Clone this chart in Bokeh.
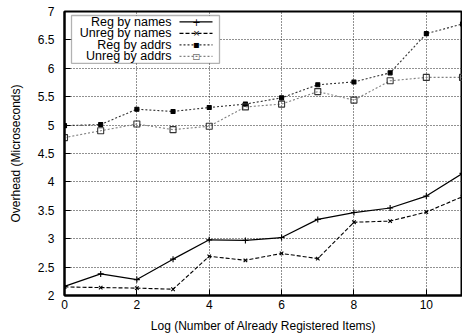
from bokeh.plotting import figure
from bokeh.models import BoxAnnotation, Label, Arrow, FixedTicker, Range1d
from bokeh.embed import file_html
from bokeh.resources import INLINE

# ---- data ----
x_vals = [0, 1, 2, 3, 4, 5, 6, 7, 8, 9, 10, 11]
reg_names = [2.16, 2.38, 2.28, 2.64, 2.98, 2.97, 3.02, 3.34, 3.46, 3.54, 3.75, 4.15]
unreg_names = [2.15, 2.14, 2.13, 2.11, 2.69, 2.62, 2.74, 2.65, 3.29, 3.31, 3.47, 3.74]
reg_addrs = [4.99, 5.01, 5.28, 5.24, 5.31, 5.37, 5.48, 5.71, 5.76, 5.92, 6.61, 6.78]
unreg_addrs = [4.78, 4.90, 5.02, 4.92, 4.98, 5.32, 5.37, 5.59, 5.44, 5.78, 5.84, 5.84]
series_names = ["Reg by names", "Unreg by names", "Reg by addrs", "Unreg by addrs"]
x_ticks = [0, 2, 4, 6, 8, 10]
y_ticks = [2, 2.5, 3, 3.5, 4, 4.5, 5, 5.5, 6, 6.5, 7]
y_tick_labels = ["2", "2.5", "3", "3.5", "4", "4.5", "5", "5.5", "6", "6.5", "7"]
x_title = "Log (Number of Already Registered Items)"
y_title = "Overhead (Microseconds)"

FONT = "Liberation Sans"
X0, X1, Y0, Y1 = 0, 11, 2, 7
W, H = 462, 335
FL, FR, FT, FB = 64, 462, 11, 296  # frame in canvas px

p = figure(width=W, height=H, output_backend="svg", toolbar_location=None,
           x_range=Range1d(X0, X1), y_range=Range1d(Y0, Y1),
           min_border_left=FL, min_border_right=W - FR, min_border_top=FT,
           min_border_bottom=H - FB)
p.background_fill_color = "white"
p.border_fill_color = "white"
p.outline_line_color = "black"
p.outline_line_width = 2

for ax in (p.xaxis[0], p.yaxis[0]):
    ax.axis_line_width = 2
    ax.axis_line_color = "black"
    ax.major_tick_in = 6
    ax.major_tick_out = 0
    ax.minor_tick_in = 0
    ax.minor_tick_out = 0
    ax.major_tick_line_color = "black"
    ax.major_label_text_font = FONT
    ax.major_label_text_font_size = "12px"
    ax.major_label_text_color = "black"
    ax.axis_label_text_font = FONT
    ax.axis_label_text_font_size = "12px"
    ax.axis_label_text_font_style = "normal"
    ax.axis_label_text_color = "black"

p.xaxis[0].ticker = FixedTicker(ticks=x_ticks)
p.yaxis[0].ticker = FixedTicker(ticks=y_ticks)
p.yaxis[0].major_label_overrides = {t: l for t, l in zip(y_ticks, y_tick_labels)}
p.xaxis[0].axis_label = x_title
p.yaxis[0].axis_label = y_title
p.xaxis[0].major_label_standoff = 4
p.xaxis[0].axis_label_standoff = 7
p.yaxis[0].major_label_standoff = 10
p.yaxis[0].axis_label_standoff = 12

for g in (p.xgrid[0], p.ygrid[0]):
    g.grid_line_color = "#222222"
    g.grid_line_dash = "1 2"
    g.grid_line_width = 1
p.xgrid[0].ticker = FixedTicker(ticks=x_ticks)
p.ygrid[0].ticker = FixedTicker(ticks=y_ticks)

# ---- series ----
styles = [
    dict(ys=reg_names, lc="black", dash="solid", lw=1.2, marker="cross", ms=6, mfill=None, mline="black"),
    dict(ys=unreg_names, lc="black", dash="4 2", lw=1.1, marker="x", ms=5, mfill=None, mline="black"),
    dict(ys=reg_addrs, lc="#333333", dash="2 2", lw=1.1, marker="square", ms=4, mfill="black", mline="black"),
    dict(ys=unreg_addrs, lc="#808080", dash="2 2", lw=1.1, marker="square", ms=6, mfill=None, mline="#333333"),
]
for s in styles:
    p.line(x_vals, s["ys"], line_color=s["lc"], line_dash=s["dash"], line_width=s["lw"])
    p.scatter(x_vals, s["ys"], marker=s["marker"], size=s["ms"],
              fill_color=s["mfill"], line_color=s["mline"], line_width=1.1)

# ---- manual gnuplot-style legend ----
def dx(px):
    return X0 + (px - FL) / (FR - FL) * (X1 - X0)

def dy(py):
    return Y1 - (py - FT) / (FB - FT) * (Y1 - Y0)

p.add_layout(BoxAnnotation(left=dx(71), right=dx(219), top=dy(15), bottom=dy(63),
                           fill_color="white", fill_alpha=1.0,
                           line_color="black", line_width=1.3, level="annotation"))
rows = [21.5, 33, 44.5, 56]
legend_glyph = ["+", "\u00d7", "\u25aa", "\u25a1"]
legend_glyph_size = ["10px", "9px", "10px", "8px"]
for name, r, s, gch, gsz in zip(series_names, rows, styles, legend_glyph, legend_glyph_size):
    p.add_layout(Label(x=dx(171), y=dy(r), text=name, text_align="right",
                       text_baseline="middle", text_font=FONT, text_font_size="12.5px",
                       text_color="black"))
    p.add_layout(Arrow(start=None, end=None, x_start=dx(179), y_start=dy(r),
                       x_end=dx(212), y_end=dy(r), line_color=s["lc"],
                       line_dash=s["dash"], line_width=s["lw"]))
    p.add_layout(Label(x=dx(196), y=dy(r), text=gch, text_align="center",
                       text_baseline="middle", text_font="DejaVu Sans", text_font_size=gsz,
                       text_color=s["mline"]))

open("out.html", "w").write(file_html(p, INLINE))
